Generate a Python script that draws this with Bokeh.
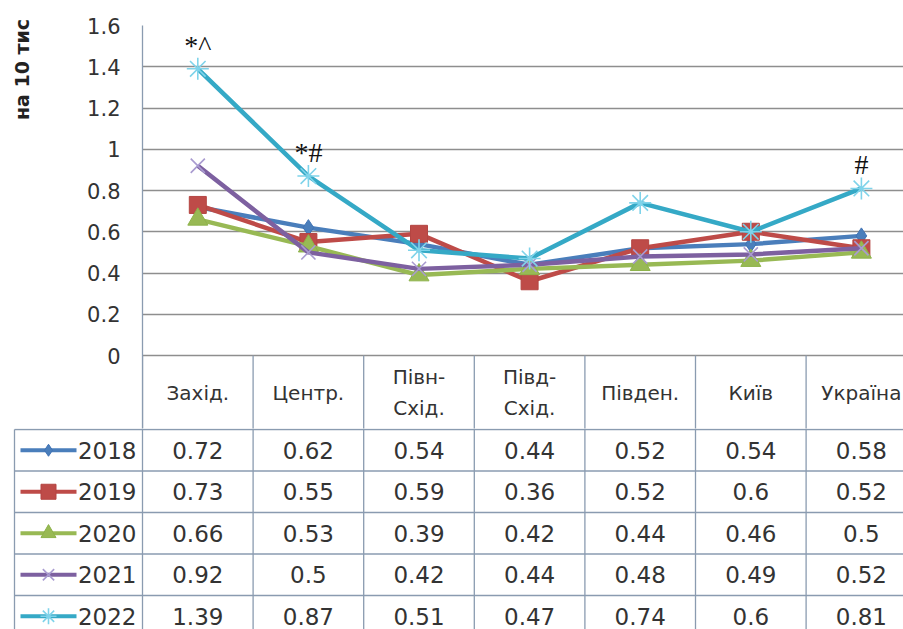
import math
from bokeh.plotting import figure
from bokeh.layouts import column, row
from bokeh.models import Range1d, FixedTicker, CustomJSTickFormatter
from bokeh.core.properties import value
from bokeh.embed import file_html
from bokeh.resources import INLINE

# ---------------- data ----------------
categories = ["Захід.", "Центр.", "Півн-\nСхід.", "Півд-\nСхід.", "Півден.", "Київ", "Україна"]
years = ["2018", "2019", "2020", "2021", "2022"]
v2018 = [0.72, 0.62, 0.54, 0.44, 0.52, 0.54, 0.58]
v2019 = [0.73, 0.55, 0.59, 0.36, 0.52, 0.6, 0.52]
v2020 = [0.66, 0.53, 0.39, 0.42, 0.44, 0.46, 0.5]
v2021 = [0.92, 0.5, 0.42, 0.44, 0.48, 0.49, 0.52]
v2022 = [1.39, 0.87, 0.51, 0.47, 0.74, 0.6, 0.81]
notes_2022 = ["*^", "*#", "", "", "", "", "#"]
y_ticks = [0, 0.2, 0.4, 0.6, 0.8, 1.0, 1.2, 1.4, 1.6]
y_title = "на 10 тис"

series = [v2018, v2019, v2020, v2021, v2022]

# ---------------- styles ----------------
styles = [
    dict(line="#4A7EBB", marker="diamond", size=16, mline="#3F72B5", mfill="#4A7EBB", mw=1, lsize=12),
    dict(line="#BE4B48", marker="square", size=17, mline="#B44542", mfill="#BE4B48", mw=1, lsize=15),
    dict(line="#98B954", marker="triangle", size=20, mline="#8DB24A", mfill="#98B954", mw=1, lsize=15),
    dict(line="#7D60A0", marker="x", size=20, mline="#A99BD0", mfill=None, mw=1.6, lsize=16),
    dict(line="#35A9C6", marker="asterisk", size=22, mline="#7FD3EA", mfill=None, mw=1.6, lsize=16),
]
FONT = "DejaVu Sans"
TXT = "#333333"
GRID = "#8E8E8E"
TABLE_LINE = "#8A9BB0"

# ---------------- layout constants ----------------
W = 903
TITLE_W = 40        # narrow strip holding the axis title
LEFT = 142          # page x of the plot area's left edge
COL = 110.6         # category column width in px
TOP = 25
PX_PER_UNIT = 206.25
ZERO_Y = 355        # page y of value 0
HEADER_BOTTOM = 429
A_H = HEADER_BOTTOM - 1
B_H = 629 - A_H
ROW_H = 41.5
TITLE_CX = 21
TITLE_CY = 69

idx = list(range(len(categories)))
x_start = -0.5
x_end = x_start + (W - LEFT) / COL
bounds = [x_start + k for k in range(len(categories) + 1)]

# ---------------- axis-title strip ----------------
pT = figure(width=TITLE_W, height=A_H, output_backend="svg", toolbar_location=None,
            x_range=Range1d(0, TITLE_W), y_range=Range1d(A_H, 0),
            x_axis_location=None, y_axis_location=None,
            min_border=0, min_border_left=0, min_border_right=0, min_border_top=0, min_border_bottom=0)
pT.frame_align = False
pT.outline_line_color = None
pT.grid.visible = False
pT.text([TITLE_CX], [TITLE_CY], text=[y_title], angle=math.pi / 2, text_font=value(FONT),
        text_font_size="19px", text_font_style="bold", text_color="#222222",
        text_align="center", text_baseline="middle")

# ---------------- chart (with header row) ----------------
y_start = -(A_H - ZERO_Y) / PX_PER_UNIT
pA = figure(width=W - TITLE_W, height=A_H, output_backend="svg", toolbar_location=None,
            x_range=Range1d(x_start, x_end),
            y_range=Range1d(y_start, 1.6),
            x_axis_location=None,
            min_border_left=LEFT - TITLE_W, min_border_right=0, min_border_top=TOP, min_border_bottom=0)
pA.frame_align = False
pA.outline_line_color = None
pA.background_fill_color = "white"
pA.border_fill_color = "white"
pA.xgrid.visible = False
pA.ygrid.grid_line_color = GRID
pA.ygrid.grid_line_width = 1.3
pA.yaxis.ticker = FixedTicker(ticks=y_ticks)
pA.yaxis.formatter = CustomJSTickFormatter(code="return String(Math.round(tick*10)/10);")
pA.yaxis.major_tick_out = 0
pA.yaxis.major_tick_in = 0
pA.yaxis.minor_tick_out = 0
pA.yaxis.minor_tick_in = 0
pA.yaxis.major_label_standoff = 22
pA.yaxis.major_label_text_font = FONT
pA.yaxis.major_label_text_font_size = "21px"
pA.yaxis.major_label_text_color = TXT
pA.yaxis.axis_line_color = TABLE_LINE
pA.yaxis.axis_line_width = 1.3

# header-row separators below the zero line
pA.segment(x0=bounds, y0=[0] * len(bounds), x1=bounds, y1=[y_start - 1] * len(bounds),
           line_color=TABLE_LINE, line_width=1.3)

for vals, st in zip(series, styles):
    pA.line(idx, vals, line_color=st["line"], line_width=4.5, line_join="round")
    pA.scatter(idx, vals, marker=st["marker"], size=st["size"],
               line_color=st["mline"], line_width=st["mw"],
               fill_color=st["mfill"])

pA.text(idx, v2022, text=notes_2022, text_font=value("Liberation Serif"),
        text_font_size="28px", text_color="#111111", text_align="center",
        text_baseline="bottom", y_offset=-8)

# header labels (header row spans page y 355..429)
hdr_center = -((HEADER_BOTTOM - ZERO_Y) / 2) / PX_PER_UNIT
pA.text(idx, [hdr_center] * len(idx), text=categories, text_font=value(FONT),
        text_font_size="20px", text_color=TXT, text_align="center", text_baseline="middle",
        text_line_height=1.3)

# ---------------- data table ----------------
tb_x_start = x_start - LEFT / COL
tb_x_end = tb_x_start + W / COL
pB = figure(width=W, height=B_H, output_backend="svg", toolbar_location=None,
            x_range=Range1d(tb_x_start, tb_x_end), y_range=Range1d(-B_H, 0),
            x_axis_location=None, y_axis_location=None,
            min_border=0, min_border_left=0, min_border_right=0, min_border_top=0, min_border_bottom=0)
pB.frame_align = False
pB.outline_line_color = None
pB.grid.visible = False
pB.background_fill_color = "white"
pB.border_fill_color = "white"

hdr_bottom = -(HEADER_BOTTOM - A_H)
table_left = x_start - (LEFT - 14) / COL
right_far = x_start + len(categories) + 1
# vertical separators
pB.segment(x0=bounds, y0=[1] * len(bounds), x1=bounds, y1=[-B_H - 5] * len(bounds),
           line_color=TABLE_LINE, line_width=1.3)
pB.segment(x0=[table_left], y0=[hdr_bottom], x1=[table_left], y1=[-B_H - 5],
           line_color=TABLE_LINE, line_width=1.3)
# horizontal separators
hy = [hdr_bottom - ROW_H * k for k in range(len(years))]
pB.segment(x0=[table_left] * len(hy), y0=hy, x1=[right_far] * len(hy), y1=hy,
           line_color=TABLE_LINE, line_width=1.3)

# values + legend keys
for r, (yr, vals, st) in enumerate(zip(years, series, styles)):
    yc = hdr_bottom - ROW_H * (r + 0.5)
    pB.text(idx, [yc] * len(idx), text=[f"{v:g}" for v in vals], text_font=value(FONT),
            text_font_size="23px", text_color=TXT, text_align="center", text_baseline="middle")
    lx0 = x_start - (LEFT - 20) / COL
    lx1 = x_start - (LEFT - 76) / COL
    pB.line([lx0, lx1], [yc, yc], line_color=st["line"], line_width=4)
    pB.scatter([(lx0 + lx1) / 2], [yc], marker=st["marker"], size=st["lsize"],
               line_color=st["mline"], line_width=st["mw"], fill_color=st["mfill"])
    pB.text([x_start - 6 / COL], [yc], text=[yr], text_font=value(FONT),
            text_font_size="23px", text_color=TXT, text_align="right", text_baseline="middle")

layout = column(row(pT, pA, spacing=0), pB, spacing=0)
open("out.html", "w").write(file_html(layout, INLINE))
